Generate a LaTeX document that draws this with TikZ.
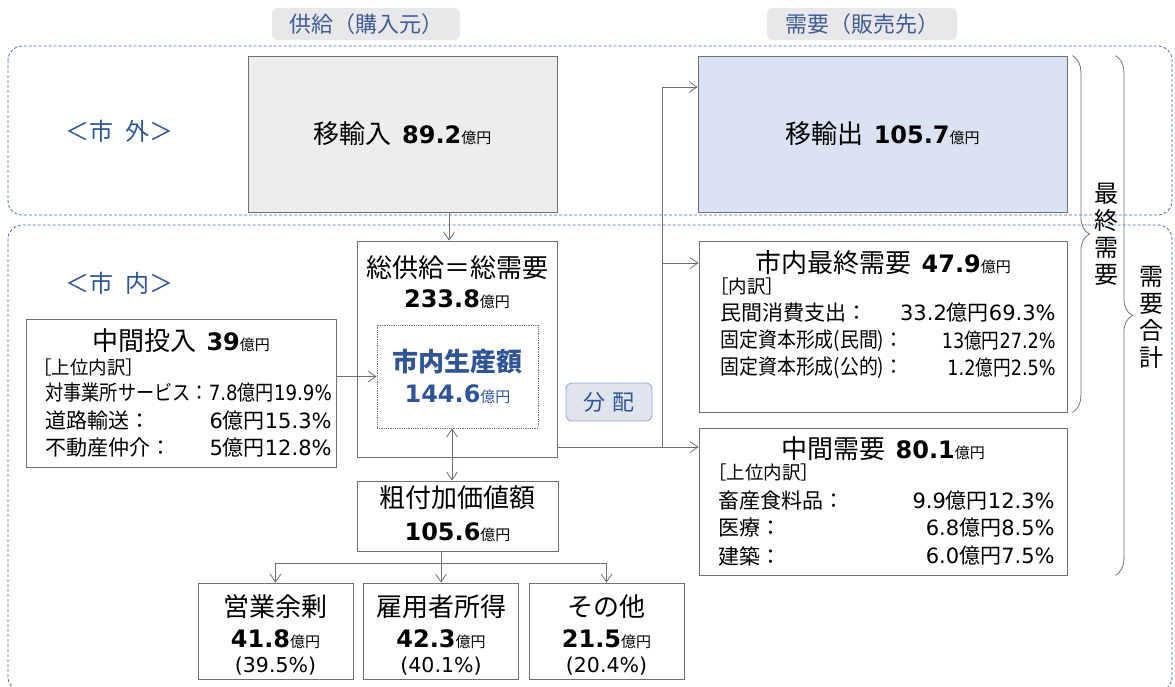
\documentclass[tikz,border=0pt]{standalone}
\usepackage{fontspec}
\setmainfont{DejaVu Sans}
\newfontfamily\jp{Noto Sans CJK JP}
\usetikzlibrary{arrows.meta,decorations.pathreplacing,positioning}

\definecolor{azul}{RGB}{47,85,151}
\definecolor{azulcab}{RGB}{62,92,150}
\definecolor{azulraya}{RGB}{72,104,172}
\definecolor{griscab}{RGB}{232,232,234}
\definecolor{grismarco}{RGB}{112,112,112}
\definecolor{grisimp}{RGB}{237,237,237}
\definecolor{azulexp}{RGB}{218,227,243}
\definecolor{grisrep}{RGB}{224,228,236}

\newcommand{\fs}[1]{\fontsize{#1}{#1}\selectfont}
\newcommand{\okuen}{{\jp\fs{15}億円}}
\newcommand{\cifra}[1]{{\normalfont\bfseries\fs{24}#1}}
\newcommand{\nr}[1]{{\normalfont #1}}

\tikzset{
  zona/.style={draw=azulraya,densely dashed,rounded corners=14pt,line width=0.8pt},
  cabeza/.style={fill=griscab,rounded corners=5pt,text=azulcab,font=\jp\fs{22},
    minimum width=188pt,minimum height=32pt,inner sep=0pt},
  etiq/.style={text=azul,font=\jp\fs{24},inner sep=0pt},
  marco/.style={draw=grismarco,line width=0.8pt,inner sep=0pt},
  titulo/.style={font=\jp\fs{26},inner sep=0pt},
  sub/.style={font=\jp\fs{18.5},inner sep=0pt,anchor=west},
  fila/.style={font=\jp\fs{21},inner sep=0pt},
  llave/.style={decorate,decoration={brace,amplitude=17pt},draw=grismarco,line width=0.8pt},
  vert/.style={font=\jp\fontsize{24}{27}\selectfont,align=center,inner sep=0pt}
}

\begin{document}
\begin{tikzpicture}[x=1pt,y=-1pt,line width=0.8pt,draw=grismarco,
  >={Straight Barb[length=8pt,width=11pt]}]
  \useasboundingbox (0,0) rectangle (1175,687);
  % zonas punteadas (fuera / dentro de la ciudad)
  \draw[zona] (8,46) rectangle (1172,215);
  \draw[zona] (8,225) rectangle (1172,691);
  \node[cabeza] (hsum) at (366,24) {供給（購入元）};
  \node[cabeza,minimum width=190pt] (hdem) at (862,24) {需要（販売先）};
  \node[etiq] (fuera) at (119,131) {＜市\hspace{0.5em}外＞};
  \node[etiq] (dentro) at (119,283) {＜市\hspace{0.5em}内＞};
  % cajas de fuera
  \node[marco,fill=grisimp,minimum width=309pt,minimum height=156pt,titulo] (imp) at (402.5,134)
    {移輸入\hspace{0.4em}\cifra{89.2}\okuen};
  \node[marco,fill=azulexp,minimum width=369pt,minimum height=156pt,titulo] (exp) at (882.5,134)
    {移輸出\hspace{0.4em}\cifra{105.7}\okuen};
  % oferta total y produccion
  \node[marco,minimum width=200pt,minimum height=216pt] (sokyo) at (457,349) {};
  \node[titulo] (skT) at (457,268) {総供給＝総需要};
  \node[titulo] (skN) at (457,299) {\cifra{233.8}\okuen};
  \node[draw=grismarco,densely dotted,line width=0.8pt,minimum width=161pt,minimum height=103pt] (seisan) at (457.5,376.5) {};
  \node[titulo,text=azul] (snT) at (457.5,362) {\bfseries 市内生産額};
  \node[titulo,text=azul] (snN) at (457.5,394) {\cifra{144.6}\okuen};
  % insumo intermedio
  \node[marco,minimum width=310pt,minimum height=148pt] (chukan) at (181,393) {};
  \node[titulo] (ciT) at (181,341) {中間投入\hspace{0.4em}\cifra{39}\okuen};
  \node[sub] (ciS) at (33,367) {［上位内訳］};
  \node[fila,anchor=west] (ci1) at (45,393) {\scalebox{0.865}[1]{対事業所サービス：\nr{7.8}億円\nr{19.9\%}}};
  \node[fila,anchor=west] (ci2l) at (45,421) {道路輸送：};
  \node[fila,anchor=east] (ci2r) at (332,421) {\nr{6}億円\nr{15.3\%}};
  \node[fila,anchor=west] (ci3l) at (45,448) {不動産仲介：};
  \node[fila,anchor=east] (ci3r) at (332,448) {\nr{5}億円\nr{12.8\%}};
  % demanda final dentro
  \node[marco,minimum width=368pt,minimum height=171pt] (saishu) at (883,326.5) {};
  \node[titulo] (smT) at (883,263) {市内最終需要\hspace{0.4em}\cifra{47.9}\okuen};
  \node[sub] (smS) at (710,286) {［内訳］};
  \node[fila,anchor=west] (sm1l) at (720,313) {民間消費支出：};
  \node[fila,anchor=east] (sm1r) at (1056,313) {\nr{33.2}億円\nr{69.3\%}};
  \node[fila,anchor=west] (sm2l) at (720,341) {\scalebox{0.9}[1]{固定資本形成(民間)：}};
  \node[fila,anchor=east] (sm2r) at (1056,341) {\scalebox{0.84}[1]{\nr{13}億円\nr{27.2\%}}};
  \node[fila,anchor=west] (sm3l) at (720,368) {\scalebox{0.9}[1]{固定資本形成(公的)：}};
  \node[fila,anchor=east] (sm3r) at (1056,368) {\scalebox{0.84}[1]{\nr{1.2}億円\nr{2.5\%}}};
  % demanda intermedia
  \node[marco,minimum width=368pt,minimum height=147pt] (chujuyo) at (883,501.5) {};
  \node[titulo] (cjT) at (883,449) {中間需要\hspace{0.4em}\cifra{80.1}\okuen};
  \node[sub] (cjS) at (708,472) {［上位内訳］};
  \node[fila,anchor=west] (cj1l) at (718,501) {畜産食料品：};
  \node[fila,anchor=east] (cj1r) at (1055,501) {\nr{9.9}億円\nr{12.3\%}};
  \node[fila,anchor=west] (cj2l) at (718,528) {医療：};
  \node[fila,anchor=east] (cj2r) at (1055,528) {\nr{6.8}億円\nr{8.5\%}};
  \node[fila,anchor=west] (cj3l) at (718,556) {建築：};
  \node[fila,anchor=east] (cj3r) at (1055,556) {\nr{6.0}億円\nr{7.5\%}};
  % valor agregado y su reparto
  \node[marco,minimum width=201pt,minimum height=70pt] (fuka) at (457.5,516) {};
  \node[titulo] (fkT) at (457.5,498) {粗付加価値額};
  \node[titulo] (fkN) at (457.5,532) {\cifra{105.6}\okuen};
  \foreach \nom/\cx/\txt/\val/\pct in {eigyo/275.5/営業余剰/41.8/39.5,koyo/441/雇用者所得/42.3/40.1,sonota/606.5/その他/21.5/20.4}{
    \node[marco,minimum width=155pt,minimum height=96pt] (\nom) at (\cx,631) {};
    \node[titulo] (\nom T) at (\cx,607) {\txt};
    \node[titulo] (\nom N) at (\cx,639) {\cifra{\val}\okuen};
    \node[fila] (\nom P) at (\cx,666) {\nr{\fs{20.5}(\pct\%)}};
  }
  \node[draw=azulraya!60,fill=grisrep,rounded corners=6pt,minimum width=86pt,minimum height=38pt,
    text=azul,font=\jp\fs{22},inner sep=0pt] (bunpai) at (609,402) {分\hspace{0.3em}配};
  % conectores
  \draw[->] ([xshift=-8pt]sokyo.north |- imp.south) -- ([xshift=-8pt]sokyo.north);
  \draw[->] (seisan.west -| chukan.east) -- (seisan.west);
  \draw[<->] ([xshift=-5.5pt]seisan.south) -- ([xshift=-5.5pt]seisan.south |- fuka.north);
  \coordinate (fork) at (662,447);
  \coordinate (aExp) at ([yshift=47pt]exp.west);
  \coordinate (aSai) at ([yshift=63.5pt]saishu.west);
  \draw[->] (sokyo.east |- fork) -- (fork -| chujuyo.west);
  \draw (fork) -- (fork |- aExp);
  \draw[->] (fork |- aExp) -- (aExp);
  \draw[->] (fork |- aSai) -- (aSai);
  \coordinate (bar) at (441,563);
  \draw (bar |- fuka.south) -- (bar);
  \draw (eigyo.north |- bar) -- (sonota.north |- bar);
  \foreach \nom in {eigyo,koyo,sonota}
    \draw[->] (\nom.north |- bar) -- (\nom.north);
  % llaves de la derecha
  \draw[llave] (exp.north east) ++(5pt,0) coordinate (l1a) -- (l1a |- saishu.south);
  \draw[llave] (l1a) ++(43pt,0) coordinate (l2a) -- (l2a |- chujuyo.south);
  \node[vert] (lblFin) at (1106,234) {最\\終\\需\\要};
  \node[vert] (lblTot) at (1151,317) {需\\要\\合\\計};
\end{tikzpicture}
\end{document}
